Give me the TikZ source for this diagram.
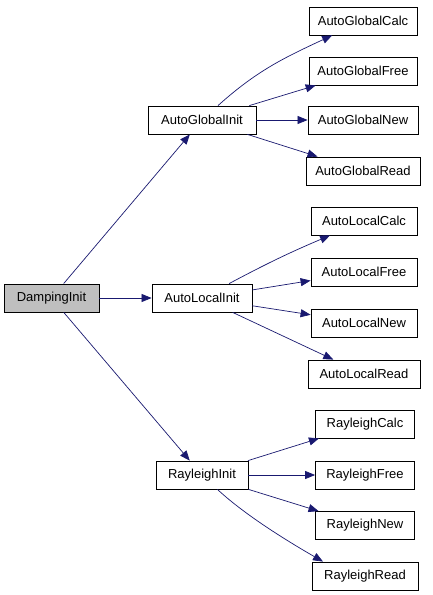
\documentclass[tikz,border=0pt]{standalone}
\usepackage{fontspec}
\setmainfont{Liberation Sans}
\usetikzlibrary{arrows.meta}
\definecolor{edgeblue}{HTML}{191970}
\definecolor{rootgray}{HTML}{BFBFBF}
\begin{document}
\begin{tikzpicture}[x=1pt,y=1pt,
  box/.style={draw=black,line width=0.8pt,fill=white,minimum height=28pt,inner xsep=2pt,inner ysep=0pt,
    font=\fontsize{13}{15}\selectfont},
  root/.style={box,fill=rootgray},
  edge/.style={draw=edgeblue,line width=0.7pt,-{Triangle[length=10pt,width=8pt]}}]
\fill[white] (0,0) rectangle (432,-595);
\useasboundingbox (0,0) rectangle (432,-595);
% nodes
\node[root,minimum width=95pt] (dinit) at (51.5,-298) {DampingInit};
\node[box,minimum width=108pt] (agi) at (202,-120) {AutoGlobalInit};
\node[box,minimum width=100pt] (ali) at (202,-298) {AutoLocalInit};
\node[box,minimum width=92pt] (ri) at (202,-475) {RayleighInit};
\node[box,minimum width=108pt] (agc) at (363,-21) {AutoGlobalCalc};
\node[box,minimum width=108pt] (agf) at (363,-71) {AutoGlobalFree};
\node[box,minimum width=110pt] (agn) at (363,-120) {AutoGlobalNew};
\node[box,minimum width=114pt] (agr) at (363,-171) {AutoGlobalRead};
\node[box,minimum width=106pt] (alc) at (364,-221) {AutoLocalCalc};
\node[box,minimum width=106pt] (alf) at (364,-272) {AutoLocalFree};
\node[box,minimum width=106pt] (aln) at (364,-323) {AutoLocalNew};
\node[box,minimum width=112pt] (alr) at (364,-374) {AutoLocalRead};
\node[box,minimum width=99pt] (rc) at (365,-424) {RayleighCalc};
\node[box,minimum width=99pt] (rf) at (365,-475) {RayleighFree};
\node[box,minimum width=99pt] (rn) at (365,-525.5) {RayleighNew};
\node[box,minimum width=106pt] (rr) at (365,-576) {RayleighRead};
% edges
\draw[edge] (dinit) -- (agi);
\draw[edge] (dinit) -- (ali);
\draw[edge] (dinit) -- (ri);
\draw[edge] (agi) to[out=42,in=205] (agc);
\draw[edge] (agi) -- (agf);
\draw[edge] (agi) -- (agn);
\draw[edge] (agi) -- (agr);
\draw[edge] (ali) to[out=28,in=203] (alc);
\draw[edge] (ali) -- (alf);
\draw[edge] (ali) -- (aln);
\draw[edge] (ali) -- (alr);
\draw[edge] (ri) -- (rc);
\draw[edge] (ri) -- (rf);
\draw[edge] (ri) -- (rn);
\draw[edge] (ri.-43) .. controls +(-43:40) and +(150:35) .. ([xshift=-42pt]rr.north);
\end{tikzpicture}
\end{document}
